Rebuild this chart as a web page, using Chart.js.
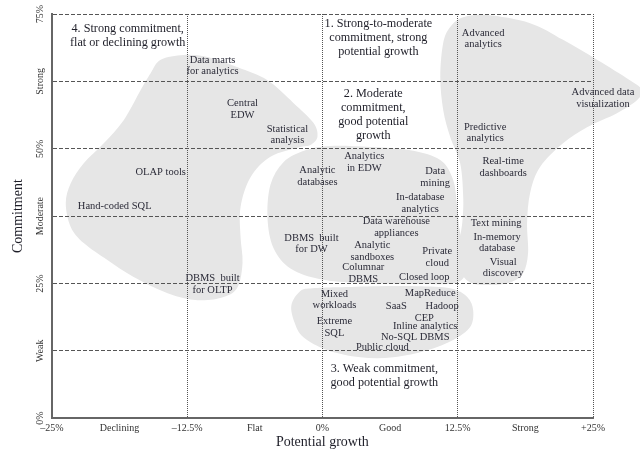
<!DOCTYPE html>
<html>
<head>
<meta charset="utf-8">
<script src="https://cdn.jsdelivr.net/npm/chart.js@4.4.1/dist/chart.umd.min.js"></script>
<style>
  html, body { margin: 0; padding: 0; background: #fff; }
  #wrap { width: 640px; height: 461px; position: relative; }
</style>
</head>
<body>
<div id="wrap"><canvas id="matrix"></canvas></div>
<script>
const SERIF = "'Liberation Serif', 'DejaVu Serif', serif";

// axis tick labels
const growthTickLabels = ['–25%', 'Declining', '–12.5%', 'Flat', '0%', 'Good', '12.5%', 'Strong', '+25%'];
const commitTickLabels = ['0%', 'Weak', '25%', 'Moderate', '50%', 'Strong', '75%'];

// technologies: potential growth (%) and commitment (%)
const techNames = [
    'Data marts\nfor analytics', 'Central\nEDW', 'Statistical\nanalysis', 'OLAP tools', 'Hand-coded SQL',
    'DBMS  built\nfor OLTP', 'Analytic\ndatabases', 'Analytics\nin EDW', 'Data\nmining', 'In-database\nanalytics',
    'Data warehouse\nappliances', 'DBMS  built\nfor DW', 'Analytic\nsandboxes', 'Private\ncloud', 'Columnar\nDBMS',
    'Closed loop', 'Mixed\nworkloads', 'MapReduce', 'SaaS', 'Hadoop',
    'Extreme\nSQL', 'CEP', 'Inline analytics', 'No-SQL DBMS', 'Public cloud',
    'Advanced\nanalytics', 'Advanced data\nvisualization', 'Predictive\nanalytics', 'Real-time\ndashboards', 'Text mining',
    'In-memory\ndatabase', 'Visual\ndiscovery'
];
const techGrowth = [
    -10.15, -7.38, -3.23, -14.94, -19.19,
    -10.15, -0.46, 3.87, 10.42, 9.04,
    6.83, -1.01, 4.61, 10.61, 3.78,
    9.41, 1.11, 9.96, 6.83, 11.07,
    1.11, 9.41, 9.50, 8.58, 5.54,
    14.85, 25.92, 15.04, 16.70, 16.05,
    16.14, 16.70
];
const techCommit = [
    65.4, 57.3, 52.6, 45.7, 39.4,
    24.9, 44.9, 47.5, 44.7, 39.9,
    35.4, 32.4, 31.0, 29.9, 26.9,
    26.2, 22.0, 23.2, 20.8, 20.8,
    16.9, 18.6, 17.1, 15.0, 13.2,
    70.4, 59.4, 53.0, 46.6, 36.2,
    32.6, 27.9
];

// quadrant headings
const quadrantTitles = [
    '1. Strong-to-moderate\ncommitment, strong\npotential growth',
    '2. Moderate\ncommitment,\ngood potential\ngrowth',
    '3. Weak commitment,\ngood potential growth',
    '4. Strong commitment,\nflat or declining growth'
];
const quadrantGrowth = [5.17, 4.70, 5.72, -17.99];
const quadrantCommit = [70.6, 56.3, 7.8, 70.9];

// group outlines as [growth, commitment]
const blobFlat = [
    [-15.87, 64.0], [-14.94, 66.5], [-12.82, 67.4], [-10.61, 67.0], [-7.84, 65.1], [-5.07, 62.7],
    [-2.68, 58.5], [-0.83, 54.8], [-0.46, 52.2], [-1.11, 50.7], [-2.03, 50.3], [-4.80, 48.5],
    [-6.64, 44.7], [-7.56, 39.2], [-7.56, 33.6], [-7.38, 28.8], [-7.84, 24.3], [-9.13, 22.5],
    [-11.53, 21.9], [-14.30, 23.2], [-17.44, 26.2], [-19.83, 29.3], [-22.05, 32.5], [-23.25, 35.5],
    [-23.71, 39.9], [-23.25, 43.6], [-22.05, 47.3], [-20.20, 51.0], [-18.36, 55.3], [-16.79, 60.9]
];
const blobModerate = [
    [0.74, 50.5], [4.43, 50.3], [8.12, 49.7], [10.89, 47.9], [12.08, 44.2], [12.45, 39.2],
    [12.73, 34.3], [13.28, 30.3], [13.28, 27.1], [12.27, 25.1], [9.04, 24.9], [3.51, 25.1],
    [-0.18, 25.8], [-2.95, 27.8], [-4.52, 31.6], [-5.07, 37.1], [-4.80, 43.3], [-3.60, 47.5],
    [-1.57, 49.7]
];
const blobWeak = [
    [-2.03, 23.6], [-2.86, 21.0], [-2.58, 17.8], [-1.75, 15.0], [0.46, 12.6], [3.51, 11.3],
    [6.55, 11.3], [9.69, 12.6], [12.08, 14.5], [13.65, 16.9], [13.93, 20.0], [13.38, 22.5],
    [11.81, 24.1], [8.76, 24.5], [5.07, 24.5], [1.38, 24.3], [-0.92, 24.1]
];
const blobStrong = [
    [10.89, 63.3], [11.16, 69.6], [11.81, 72.6], [13.01, 74.4], [15.22, 74.8], [19.19, 73.3],
    [22.23, 70.2], [25.37, 66.5], [28.41, 62.7], [29.52, 60.9], [29.06, 59.0], [27.21, 56.6],
    [24.45, 54.0], [22.23, 51.0], [20.11, 46.6], [19.19, 41.8], [18.91, 36.2], [19.00, 30.6],
    [18.54, 26.9], [17.34, 25.2], [15.50, 24.7], [13.65, 25.2], [12.73, 27.5], [12.55, 31.2],
    [12.92, 36.2], [13.01, 41.0], [12.73, 47.3], [11.81, 52.2], [11.16, 57.2]
];

function smoothClosedPath(ctx, pts) {
    const n = pts.length;
    ctx.beginPath();
    ctx.moveTo(pts[0].x, pts[0].y);
    for (let i = 0; i < n; i++) {
        const p0 = pts[(i - 1 + n) % n], p1 = pts[i], p2 = pts[(i + 1) % n], p3 = pts[(i + 2) % n];
        ctx.bezierCurveTo(
            p1.x + (p2.x - p0.x) / 6, p1.y + (p2.y - p0.y) / 6,
            p2.x - (p3.x - p1.x) / 6, p2.y - (p3.y - p1.y) / 6,
            p2.x, p2.y
        );
    }
    ctx.closePath();
}

// grey groups go under the grid
const blobPlugin = {
    id: 'blobs',
    beforeDraw(chart) {
        const { ctx, scales: { x, y } } = chart;
        ctx.save();
        ctx.fillStyle = '#e6e6e6';
        [blobFlat, blobModerate, blobWeak, blobStrong].forEach(blob => {
            const pts = blob.map(([g, c]) => ({ x: x.getPixelForValue(g), y: y.getPixelForValue(c) }));
            smoothClosedPath(ctx, pts);
            ctx.fill();
        });
        ctx.restore();
    }
};

// write each point's name centred on it
const textPlugin = {
    id: 'pointText',
    afterDatasetsDraw(chart) {
        const ctx = chart.ctx;
        chart.data.datasets.forEach((ds, di) => {
            const meta = chart.getDatasetMeta(di);
            ctx.save();
            ctx.font = ds.textFont;
            ctx.fillStyle = ds.textColor;
            ctx.textAlign = 'center';
            ctx.textBaseline = 'middle';
            meta.data.forEach((pt, i) => {
                const lines = ds.names[i].split('\n');
                const top = pt.y - (lines.length - 1) * ds.lineHeight / 2;
                lines.forEach((line, k) => ctx.fillText(line, pt.x, top + k * ds.lineHeight));
            });
            ctx.restore();
        });
    }
};

// rotated commitment labels
const commitLabelPlugin = {
    id: 'commitLabels',
    afterDraw(chart) {
        const { ctx, scales: { y }, chartArea } = chart;
        ctx.save();
        ctx.font = '10px ' + SERIF;
        ctx.fillStyle = '#333';
        ctx.textAlign = 'center';
        ctx.textBaseline = 'middle';
        y.ticks.forEach((t, i) => {
            ctx.save();
            ctx.translate(chartArea.left - 11, y.getPixelForValue(t.value));
            ctx.rotate(-Math.PI / 2);
            ctx.fillText(commitTickLabels[i], 0, 0);
            ctx.restore();
        });
        ctx.restore();
    }
};

const toPoints = (xs, ys) => xs.map((v, i) => ({ x: v, y: ys[i] }));

new Chart(document.getElementById('matrix'), {
    type: 'scatter',
    data: {
        datasets: [
            {
                data: toPoints(techGrowth, techCommit),
                names: techNames,
                textFont: '10.5px ' + SERIF,
                textColor: '#2b2b38',
                lineHeight: 11.5,
                pointRadius: 0
            },
            {
                data: toPoints(quadrantGrowth, quadrantCommit),
                names: quadrantTitles,
                textFont: '12.2px ' + SERIF,
                textColor: '#1e1e28',
                lineHeight: 14,
                pointRadius: 0
            }
        ]
    },
    options: {
        responsive: true,
        maintainAspectRatio: false,
        animation: false,
        layout: { padding: { left: 0, right: 47, top: 14, bottom: 10 } },
        plugins: {
            legend: { display: false },
            tooltip: { enabled: false }
        },
        scales: {
            x: {
                type: 'linear',
                min: -25,
                max: 25,
                ticks: {
                    stepSize: 6.25,
                    autoSkip: false,
                    maxRotation: 0,
                    padding: 4,
                    color: '#333',
                    font: { family: SERIF, size: 10 },
                    callback: (v, i) => growthTickLabels[i]
                },
                grid: {
                    drawTicks: false,
                    lineWidth: 1,
                    color: c => (c.tick && c.tick.value % 12.5 === 0 && c.tick.value !== -25) ? '#555' : 'transparent'
                },
                border: { color: '#666', width: 2, dash: [1, 1] },
                title: {
                    display: true,
                    text: 'Potential growth',
                    color: '#1e1e28',
                    font: { family: SERIF, size: 14 },
                    padding: { top: -4, bottom: 0 }
                }
            },
            y: {
                type: 'linear',
                min: 0,
                max: 75,
                ticks: { stepSize: 12.5, display: false },
                grid: {
                    drawTicks: false,
                    lineWidth: 1,
                    color: c => (c.tick && c.tick.value !== 0) ? '#555' : 'transparent'
                },
                border: { color: '#666', width: 2, dash: [4, 2] },
                title: {
                    display: true,
                    text: 'Commitment',
                    color: '#1e1e28',
                    font: { family: SERIF, size: 14 },
                    padding: { top: 10, bottom: 25 }
                }
            }
        }
    },
    plugins: [blobPlugin, textPlugin, commitLabelPlugin]
});
</script>
</body>
</html>
